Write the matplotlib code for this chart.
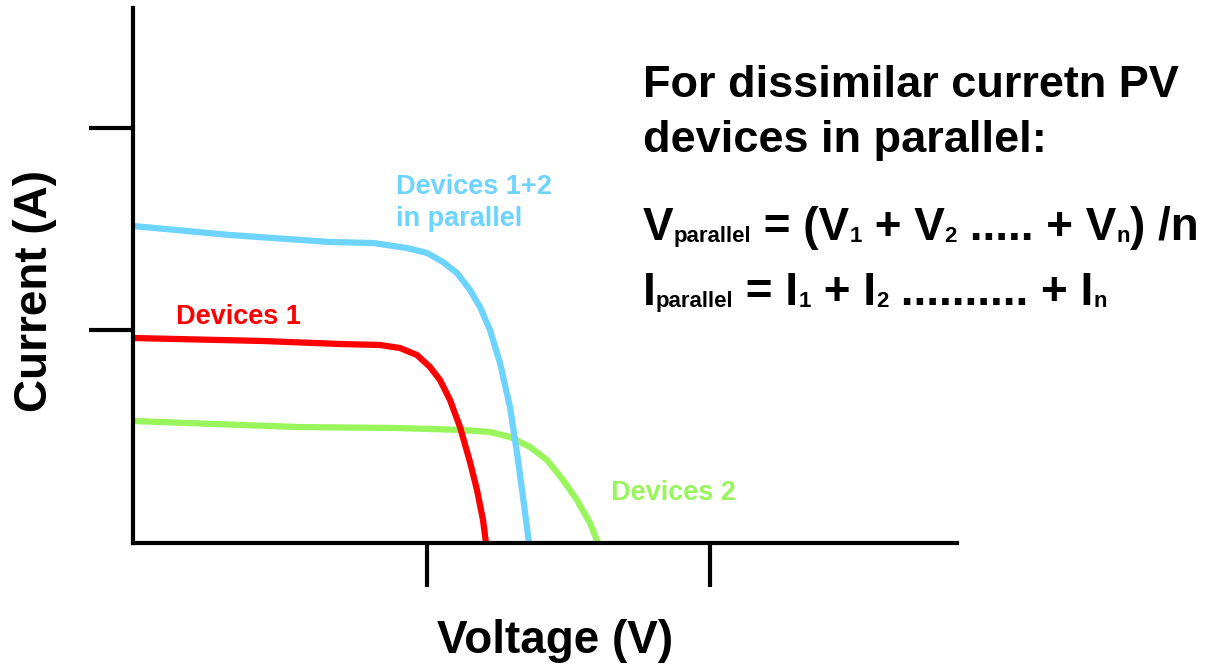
import matplotlib.pyplot as plt

plt.rcParams['font.family'] = ['Liberation Sans', 'DejaVu Sans']
plt.rcParams['font.weight'] = 'bold'

# ---------- Data (arbitrary units) ----------
dev1_v = [0.00, 1.30, 2.07, 2.47, 2.67, 2.84, 2.97, 3.07, 3.17, 3.27, 3.37, 3.44, 3.50, 3.53]
dev1_i = [2.05, 2.02, 1.99, 1.98, 1.95, 1.88, 1.76, 1.63, 1.43, 1.16, 0.81, 0.53, 0.23, 0.00]

dev2_v = [0.00, 1.64, 2.64, 3.30, 3.57, 3.77, 3.97, 4.14, 4.30, 4.44, 4.57, 4.65]
dev2_i = [1.22, 1.16, 1.15, 1.13, 1.11, 1.06, 0.96, 0.83, 0.63, 0.43, 0.20, 0.00]

par_v = [0.00, 0.97, 1.97, 2.40, 2.74, 2.94, 3.10, 3.24, 3.37, 3.47, 3.57, 3.67, 3.77, 3.84, 3.90, 3.96]
par_i = [3.17, 3.08, 3.01, 3.00, 2.95, 2.90, 2.81, 2.70, 2.53, 2.36, 2.13, 1.80, 1.36, 0.90, 0.46, 0.00]

x_ticks = [2.94, 5.77]
y_ticks = [2.13, 4.15]

RED = '#ff0000'
GREEN = '#99f55c'
BLUE = '#6dd3ff'

W, H = 1207, 668

# ---------- Plot ----------
fig = plt.figure(figsize=(W / 100, H / 100), dpi=100)
ax = fig.add_axes([133 / W, 1 - 543 / H, 824 / W, 535 / H])

for v, i, c in [(dev2_v, dev2_i, GREEN), (dev1_v, dev1_i, RED), (par_v, par_i, BLUE)]:
    ax.plot(v, i, color=c, lw=4.5, solid_capstyle='butt', solid_joinstyle='round')

ax.set_xlim(0, 8.24)
ax.set_ylim(0, 5.35)
ax.set_xticks(x_ticks)
ax.set_yticks(y_ticks)
ax.set_xticklabels([])
ax.set_yticklabels([])
ax.tick_params(direction='out', length=32, width=3, color='black')
for side in ['top', 'right']:
    ax.spines[side].set_visible(False)
for side in ['left', 'bottom']:
    ax.spines[side].set_linewidth(3)

ax.set_xlabel('Voltage (V)', fontsize=33, fontweight='bold')
ax.set_ylabel('Current (A)', fontsize=33, fontweight='bold')
ax.xaxis.set_label_coords(0.512, -0.142)
ax.yaxis.set_label_coords(-0.092, 0.471)

# curve labels
ax.text(0.43, 2.13, 'Devices 1', color=RED, fontsize=19.5, fontweight='bold', va='bottom')
ax.text(4.78, 0.50, 'Devices 2', color=GREEN, fontsize=19.5, fontweight='bold', va='center')
ax.text(2.63, 3.11, 'Devices 1+2\nin parallel', color=BLUE, fontsize=19.5,
        fontweight='bold', va='bottom', linespacing=1.3)

# heading
fig.text(643 / W, 1 - 97 / H, 'For dissimilar curretn PV', fontsize=32.5,
         fontweight='bold', va='baseline')
fig.text(643 / W, 1 - 152 / H, 'devices in parallel:', fontsize=32.5,
         fontweight='bold', va='baseline')

# equations: main text with small subscripts, laid out piece by piece
renderer = fig.canvas.get_renderer()


def draw_run(x_px, base_px, pieces):
    for txt, size, drop in pieces:
        t = fig.text(x_px / W, 1 - (base_px + drop) / H, txt, fontsize=size,
                     fontweight='bold', va='baseline', ha='left')
        x_px = t.get_window_extent(renderer).x1


BIG, SUB = 33, 16
draw_run(643, 240, [('V', BIG, 0), ('parallel', SUB, 2), (' = (V', BIG, 0), ('1', SUB, 2),
                    (' + V', BIG, 0), ('2', SUB, 2), (' ..... + V', BIG, 0), ('n', SUB, 2),
                    (') /n', BIG, 0)])
draw_run(643, 305, [('I', BIG, 0), ('parallel', SUB, 2), (' = I', BIG, 0), ('1', SUB, 2),
                    (' + I', BIG, 0), ('2', SUB, 2), (' .......... + I', BIG, 0), ('n', SUB, 2)])

fig.savefig('out.png', dpi=100)
